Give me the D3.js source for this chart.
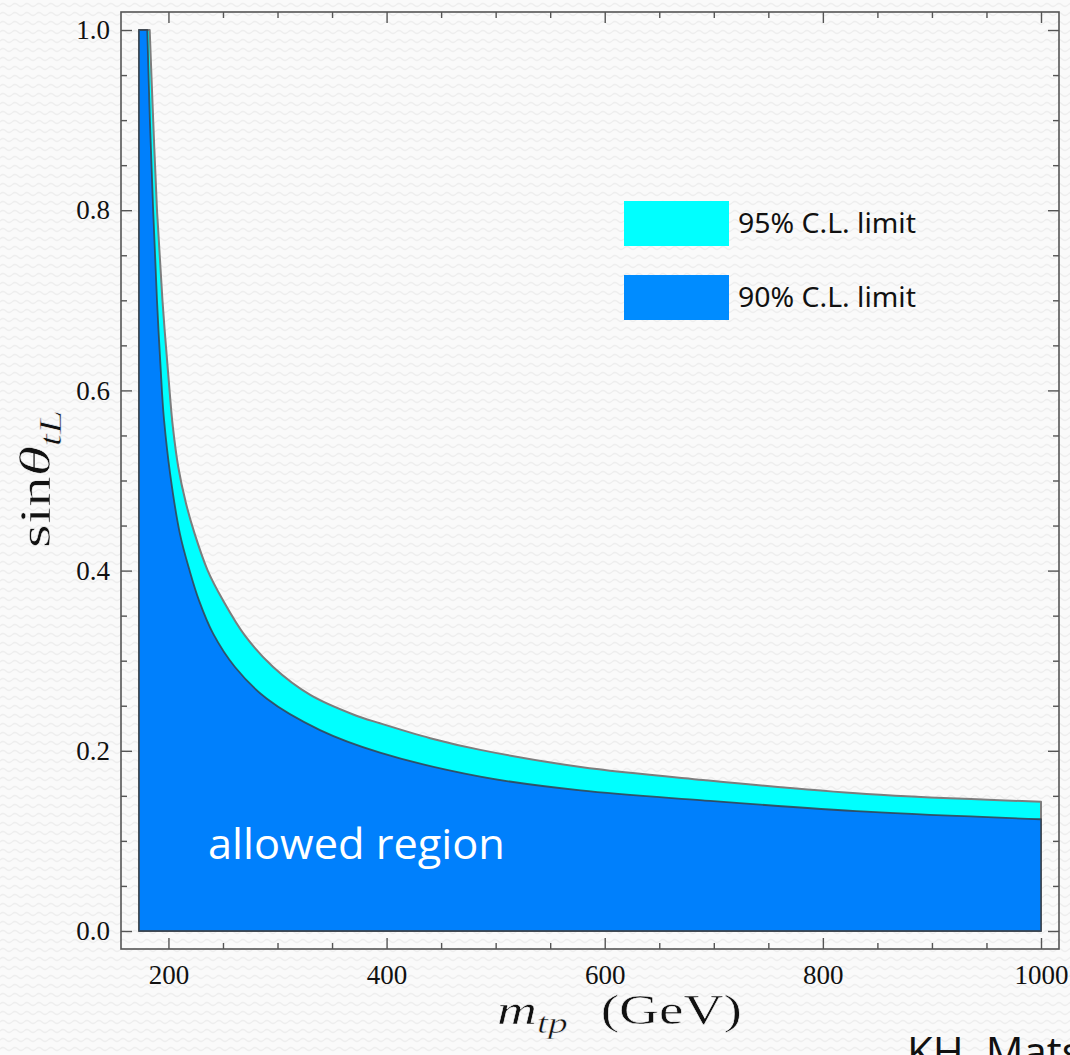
<!DOCTYPE html>
<html><head><meta charset="utf-8">
<script src="https://cdn.jsdelivr.net/npm/d3@7"></script>
<style>
html,body{margin:0;padding:0;background:#f9f9f9;overflow:hidden;}
</style></head><body>
<svg id="chart" width="1070" height="1055"></svg>
<script>
// ---- data ----
const massMin = 173;      // left edge of the allowed region
const massMax = 1000;     // right edge of the plotted range
const massLower = [180.6, 183, 186, 189.5, 194, 196, 201.5, 210.5, 219.4, 228, 241, 261, 290, 339, 394, 486, 578, 690, 840, 1000];
const sinLower  = [1.0, 0.9, 0.8, 0.7, 0.6, 0.567, 0.508, 0.441, 0.40, 0.367, 0.33, 0.293, 0.258, 0.223, 0.198, 0.1713, 0.156, 0.145, 0.1324, 0.124];
const massUpper = [182.8, 186, 189.5, 194.5, 201, 204, 209, 216, 224, 236, 250, 270, 296, 330, 370, 394, 440, 486, 578, 690, 840, 1000];
const sinUpper  = [1.0, 0.9, 0.8, 0.7, 0.6, 0.56, 0.515, 0.475, 0.441, 0.40, 0.367, 0.328, 0.293, 0.262, 0.240, 0.2305, 0.214, 0.201, 0.182, 0.1676, 0.152, 0.1435];
const xMajorTicks = [200, 400, 600, 800, 1000];
const xMinorTicks = [250, 300, 350, 450, 500, 550, 650, 700, 750, 850, 900, 950];
const yMajorTicks = [0, 0.2, 0.4, 0.6, 0.8, 1.0];
const yMinorTicks = [0.05, 0.1, 0.15, 0.25, 0.3, 0.35, 0.45, 0.5, 0.55, 0.65, 0.7, 0.75, 0.85, 0.9, 0.95];
const legendLabels = ["95% C.L. limit", "90% C.L. limit"];
const regionLabel = "allowed region";
const creditText = "KH. Matsumoto";

// ---- layout ----
const svg = d3.select("#chart");
const L = 121, R = 1059, T = 12, B = 949;
const x = d3.scaleLinear().domain([156.5, 1016.5]).range([L, R]);
const y = d3.scaleLinear().domain([-0.02, 1.02]).range([B, T]);

const defs = svg.append("defs");
const pat = defs.append("pattern").attr("id", "wave").attr("width", 12).attr("height", 9)
  .attr("patternUnits", "userSpaceOnUse");
pat.append("rect").attr("width", 12).attr("height", 9).attr("fill", "#fafafa");
pat.append("path").attr("d", "M0 5 Q3 2 6 5 T12 5").attr("stroke", "#eeeeee")
  .attr("stroke-width", 1.2).attr("fill", "none");
svg.append("rect").attr("width", 1070).attr("height", 1055).attr("fill", "url(#wave)");

// ---- regions: left edge, top edge, smooth boundary curve, right edge, bottom ----
const curveLine = d3.line().x(d => x(d[0])).y(d => y(d[1])).curve(d3.curveCatmullRom.alpha(0.5));
function regionPath(ms, ss) {
  const pts = ms.map((m, i) => [m, ss[i]]);
  const c = curveLine(pts).replace(/^M/, "L");
  return `M${x(massMin)},${y(0)}L${x(massMin)},${y(1)}` + c + `L${x(massMax)},${y(0)}Z`;
}
svg.append("path").attr("d", regionPath(massUpper, sinUpper))
  .attr("fill", "#00ffff").attr("stroke", "#7d7d7d").attr("stroke-width", 2).attr("stroke-linejoin", "round");
svg.append("path").attr("d", regionPath(massLower, sinLower))
  .attr("fill", "#0080fc").attr("stroke", "rgba(55,65,75,0.85)").attr("stroke-width", 1.8).attr("stroke-linejoin", "round");

// ---- axes ----
function addAxis(gen, tf) {
  const g = svg.append("g").attr("transform", tf).call(gen);
  g.select(".domain").remove();
  g.selectAll(".tick line").attr("stroke", "#555").attr("stroke-width", 1.4);
  g.selectAll(".tick text").attr("font-family", "'Liberation Serif', 'Times New Roman', serif")
    .attr("font-size", 27).attr("fill", "#111");
  return g;
}
const none = () => "";
addAxis(d3.axisBottom(x).tickValues(xMajorTicks).tickSizeInner(-11).tickSizeOuter(0).tickPadding(16).tickFormat(d3.format("d")), `translate(0,${B})`);
addAxis(d3.axisBottom(x).tickValues(xMinorTicks).tickSizeInner(-6).tickSizeOuter(0).tickFormat(none), `translate(0,${B})`);
addAxis(d3.axisTop(x).tickValues(xMajorTicks).tickSizeInner(-11).tickSizeOuter(0).tickFormat(none), `translate(0,${T})`);
addAxis(d3.axisTop(x).tickValues(xMinorTicks).tickSizeInner(-6).tickSizeOuter(0).tickFormat(none), `translate(0,${T})`);
addAxis(d3.axisLeft(y).tickValues(yMajorTicks).tickSizeInner(-11).tickSizeOuter(0).tickPadding(11).tickFormat(d3.format(".1f")), `translate(${L},0)`);
addAxis(d3.axisLeft(y).tickValues(yMinorTicks).tickSizeInner(-6).tickSizeOuter(0).tickFormat(none), `translate(${L},0)`);
addAxis(d3.axisRight(y).tickValues(yMajorTicks).tickSizeInner(-11).tickSizeOuter(0).tickFormat(none), `translate(${R},0)`);
addAxis(d3.axisRight(y).tickValues(yMinorTicks).tickSizeInner(-6).tickSizeOuter(0).tickFormat(none), `translate(${R},0)`);

svg.append("rect").attr("x", L).attr("y", T).attr("width", R - L).attr("height", B - T)
  .attr("fill", "none").attr("stroke", "#555").attr("stroke-width", 1.6);

// ---- helper: stretch text horizontally to a target width ----
function fitWidth(textSel, target) {
  const bb = textSel.node().getBBox();
  const sx = target / bb.width;
  textSel.attr("transform", `translate(${-bb.x * sx},0) scale(${sx},1)`);
}

// ---- axis titles (slightly thinned, like Computer Modern) ----
const serif = "'Liberation Serif', 'Times New Roman', serif";
function thin(sel) {
  return sel.attr("stroke", "#f9f9f9").attr("stroke-width", 0.5).attr("paint-order", "fill");
}
const xg = svg.append("g").attr("transform", "translate(497,0)");
const xt = xg.append("text").attr("x", 0).attr("y", 1024).attr("font-family", serif)
  .attr("font-size", 42).attr("fill", "#111");
xt.append("tspan").attr("font-style", "italic").text("m");
xt.append("tspan").attr("font-style", "italic").attr("font-size", 30).attr("dy", 9).text("tp");
xt.append("tspan").attr("dy", -9).attr("dx", 25).text("(GeV)");
thin(xt);
fitWidth(xt, 245);

const yg = svg.append("g").attr("transform", "translate(50,548) rotate(-90)");
const yt = yg.append("text").attr("x", 0).attr("y", 0).attr("font-family", serif)
  .attr("font-size", 44).attr("fill", "#111");
yt.append("tspan").text("sin");
yt.append("tspan").attr("font-style", "italic").text("θ");
yt.append("tspan").attr("font-style", "italic").attr("font-size", 31).attr("dy", 11).text("tL");
thin(yt);
fitWidth(yt, 138);

// ---- legend ----
const legendFill = ["#00ffff", "#008cff"];
const lg = svg.append("g");
legendLabels.forEach((lab, i) => {
  lg.append("rect").attr("x", 624).attr("y", 201 + i * 74).attr("width", 105).attr("height", 45)
    .attr("fill", legendFill[i]);
  const tg = lg.append("g").attr("transform", "translate(738,0)");
  const t = tg.append("text").attr("x", 0).attr("y", 233 + i * 74.5)
    .attr("font-family", "'Noto Sans', sans-serif").attr("font-size", 28).attr("fill", "#111").text(lab);
  fitWidth(t, 178);
});

// ---- annotations ----
const rg = svg.append("g").attr("transform", "translate(208,0)");
const rt = rg.append("text").attr("x", 0).attr("y", 859).attr("font-family", "'Open Sans', sans-serif")
  .attr("font-size", 42).attr("fill", "#ffffff").text(regionLabel);
fitWidth(rt, 297);

svg.append("text").attr("x", 907).attr("y", 1067).attr("font-family", "'Open Sans', sans-serif")
  .attr("font-size", 42).attr("fill", "#111").text(creditText);
</script>
</body></html>
